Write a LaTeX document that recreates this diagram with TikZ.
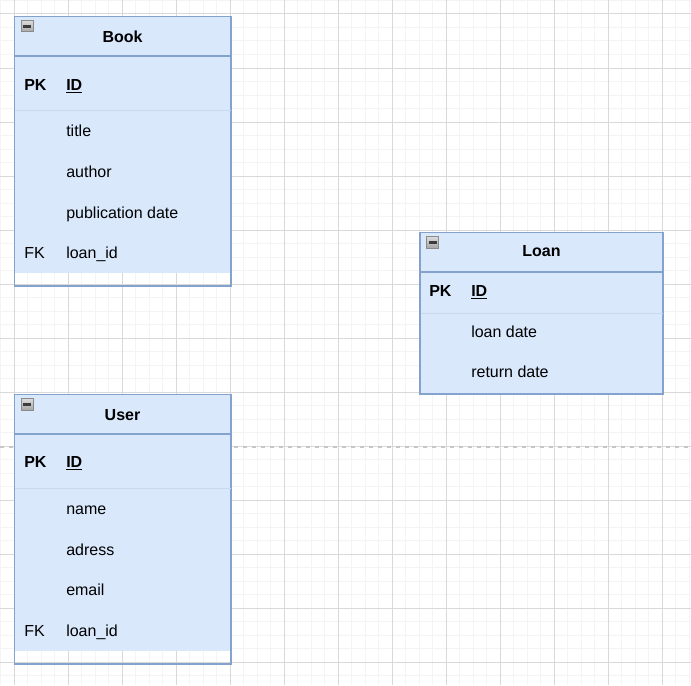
\documentclass[tikz,border=0pt]{standalone}
\usepackage{fontspec}
\setmainfont{Liberation Sans}
\definecolor{erfill}{HTML}{DAE8FC}
\definecolor{erline}{HTML}{84A2CE}
\definecolor{ersep}{HTML}{C8D8EF}
\definecolor{gridminor}{HTML}{F4F4F4}
\definecolor{gridmajor}{HTML}{D9D9D9}
\definecolor{pagebrk}{HTML}{C6C6C6}
\definecolor{iconline}{HTML}{8A8A8A}
\definecolor{icontop}{HTML}{DCDCDC}
\definecolor{iconbot}{HTML}{A6A6A6}
\definecolor{iconbar}{HTML}{3C3C3C}
\begin{document}
\begin{tikzpicture}[x=0.75pt,y=-0.75pt,
  tblbox/.style={draw=erline, line width=0.8pt},
  tblfill/.style={fill=erfill},
  sepline/.style={draw=ersep, line width=0.75pt},
  cell/.style={anchor=base west, inner sep=0pt, font=\fontsize{12}{14}\selectfont},
  keycell/.style={anchor=base west, inner sep=0pt, font=\bfseries\fontsize{12}{14}\selectfont},
  tbltitle/.style={anchor=base, inner sep=0pt, font=\bfseries\fontsize{12}{14}\selectfont},
  iconbox/.style={draw=iconline, line width=0.75pt, top color=icontop, bottom color=iconbot},
  iconbarstyle/.style={fill=iconbar}]
\useasboundingbox (0,0) rectangle (691,685);
\fill[white] (0,0) rectangle (691,685);
% grid
\foreach \i in {0,...,51} {
  \pgfmathsetmacro\gx{0.5+13.5*\i}
  \draw[gridminor, line width=0.75pt] (\gx,0) -- (\gx,685);
  \draw[gridminor, line width=0.75pt] (0,\gx) -- (691,\gx);
}
\foreach \i in {0,...,12} {
  \pgfmathsetmacro\gx{14+54*\i}
  \draw[gridmajor, line width=0.75pt] (\gx,0) -- (\gx,685);
  \draw[gridmajor, line width=0.75pt] (0,\gx) -- (691,\gx);
}
% page break
\draw[pagebrk, line width=1.5pt, dash pattern=on 3.3pt off 3.45pt] (0,447.3) -- (691,447.3);

% ---------- Book ----------
\fill[tblfill] (14.5,16.5) rectangle (231,273);
\draw[tblbox] (14.5,16.5) rectangle (231,286);
\draw[tblbox] (14.5,56) -- (231,56);
\draw[sepline] (15,110.5) -- (230.5,110.5);
\draw[iconbox] (21,20.5) rectangle (33,32);
\fill[iconbarstyle] (23,25) rectangle (31,28);
\node[tbltitle] (bookT) at (122.5,42.3) {Book};
\node[keycell] (bookPK) at (24,90) {PK};
\node[keycell] (bookID) at (66,90) {\underline{ID}};
\node[cell] (bookA1) at (66,136.7) {title};
\node[cell] (bookA2) at (66,177.3) {author};
\node[cell] (bookA3) at (66,218) {publication date};
\node[cell] (bookFK) at (24,258.5) {FK};
\node[cell] (bookA4) at (66,258.5) {loan\_id};

% ---------- Loan ----------
\fill[tblfill] (420,232.5) rectangle (663,394);
\draw[tblbox] (420,232.5) rectangle (663,394);
\draw[tblbox] (420,272) -- (663,272);
\draw[sepline] (420.5,313.3) -- (662.5,313.3);
\draw[iconbox] (426.5,236.5) rectangle (438.5,248);
\fill[iconbarstyle] (428.5,241) rectangle (436.5,244);
\node[tbltitle] (loanT) at (541.5,256.7) {Loan};
\node[keycell] (loanPK) at (429,296.7) {PK};
\node[keycell] (loanID) at (471,296.7) {\underline{ID}};
\node[cell] (loanA1) at (471,337.7) {loan date};
\node[cell] (loanA2) at (471,377.7) {return date};

% ---------- User ----------
\fill[tblfill] (14.5,394.5) rectangle (231,651);
\draw[tblbox] (14.5,394.5) rectangle (231,664);
\draw[tblbox] (14.5,434) -- (231,434);
\draw[sepline] (15,488.3) -- (230.5,488.3);
\draw[iconbox] (21,398.5) rectangle (33,410);
\fill[iconbarstyle] (23,403) rectangle (31,406);
\node[tbltitle] (userT) at (122.5,420.7) {User};
\node[keycell] (userPK) at (24,467.3) {PK};
\node[keycell] (userID) at (66,467.3) {\underline{ID}};
\node[cell] (userA1) at (66,514.7) {name};
\node[cell] (userA2) at (66,555.3) {adress};
\node[cell] (userA3) at (66,595.7) {email};
\node[cell] (userFK) at (24,636.3) {FK};
\node[cell] (userA4) at (66,636.3) {loan\_id};
\end{tikzpicture}
\end{document}
